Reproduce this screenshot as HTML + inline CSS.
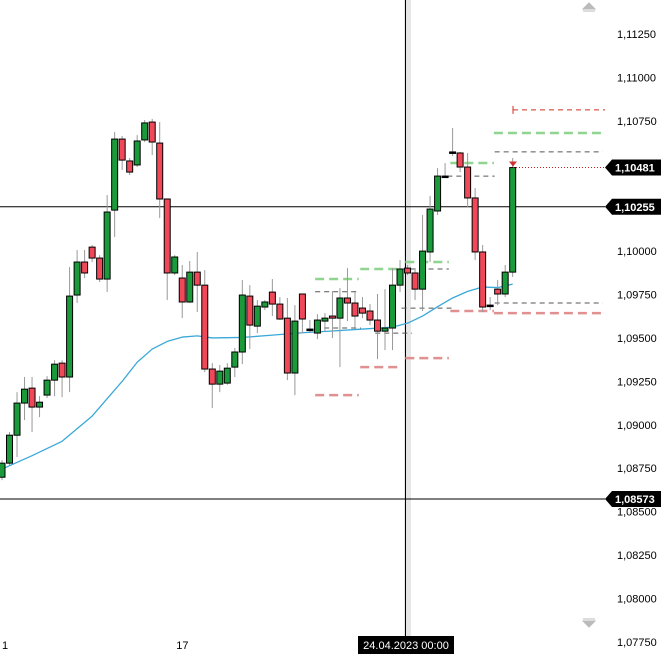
<!DOCTYPE html>
<html><head><meta charset="utf-8"><style>
html,body{margin:0;padding:0;background:#fff;}
#wrap{position:relative;width:661px;height:654px;overflow:hidden;font-family:"Liberation Sans",sans-serif;}
svg{position:absolute;left:0;top:0;}
</style></head><body>
<div id="wrap">
<svg id="chart" width="661" height="654"></svg>
</div>
<script>
const opens  = [1.08698,1.08779,1.08940,1.09125,1.09211,1.09102,1.09171,1.09257,1.09355,1.09275,1.09747,1.09937,1.10023,1.09960,1.09839,1.10236,1.10645,1.10519,1.10496,1.10640,1.10743,1.10622,1.10300,1.09874,1.09845,1.09707,1.09879,1.09804,1.09321,1.09234,1.09240,1.09332,1.09419,1.09741,1.09568,1.09678,1.09764,1.09695,1.09614,1.09298,1.09753,1.09551,1.09528,1.09597,1.09626,1.09614,1.09730,1.09701,1.09672,1.09655,1.09603,1.09539,1.09557,1.09804,1.09902,1.09874,1.09781,1.09995,1.10231,1.10432,1.10571,1.10565,1.10484,1.10306,1.09995,1.09689,1.09781,1.09753,1.09879];
const closes = [1.08779,1.08940,1.09125,1.09205,1.09102,1.09130,1.09257,1.09349,1.09275,1.09741,1.09937,1.09874,1.09960,1.09839,1.10225,1.10645,1.10524,1.10455,1.10634,1.10738,1.10628,1.10300,1.09874,1.09966,1.09707,1.09879,1.09804,1.09321,1.09234,1.09309,1.09326,1.09419,1.09747,1.09574,1.09683,1.09707,1.09695,1.09609,1.09298,1.09597,1.09609,1.09551,1.09603,1.09614,1.09614,1.09730,1.09701,1.09626,1.09643,1.09603,1.09539,1.09557,1.09804,1.09897,1.09874,1.09781,1.10000,1.10242,1.10432,1.10432,1.10571,1.10484,1.10306,1.09995,1.09678,1.09689,1.09753,1.09879,1.10481];
const highs  = [1.08796,1.08958,1.09188,1.09275,1.09275,1.09165,1.09280,1.09372,1.09372,1.09908,1.10006,1.10006,1.10035,1.09977,1.10323,1.10686,1.10663,1.10536,1.10668,1.10755,1.10761,1.10743,1.10300,1.09977,1.09920,1.09943,1.09995,1.09891,1.09355,1.09344,1.09355,1.09442,1.09833,1.09804,1.09718,1.09718,1.09839,1.09735,1.09730,1.09689,1.09753,1.09603,1.09637,1.09643,1.09770,1.09787,1.09902,1.09764,1.09735,1.09695,1.09753,1.09781,1.09902,1.09948,1.09920,1.09902,1.10208,1.10317,1.10478,1.10507,1.10709,1.10571,1.10565,1.10363,1.10035,1.09735,1.09833,1.09920,1.10536];
const lows   = [1.08681,1.08768,1.08814,1.09027,1.08958,1.09044,1.09154,1.09165,1.09159,1.09188,1.09701,1.09845,1.09937,1.09822,1.09764,1.10081,1.10467,1.10438,1.10484,1.10628,1.10553,1.10190,1.09718,1.09862,1.09614,1.09701,1.09649,1.09303,1.09096,1.09188,1.09230,1.09275,1.09349,1.09436,1.09528,1.09660,1.09626,1.09603,1.09257,1.09171,1.09528,1.09528,1.09493,1.09539,1.09499,1.09332,1.09597,1.09557,1.09614,1.09574,1.09378,1.09430,1.09430,1.09764,1.09862,1.09718,1.09655,1.09937,1.10208,1.10421,1.10547,1.10455,1.10254,1.09948,1.09649,1.09660,1.09689,1.09735,1.09851];
const maIndex = [0,4,8,12,14,16,18,20,22,24,26,28,32,36,40,44,48,52,54,56,58,60,62,64,66,68];
const maValues = [1.08745,1.08822,1.08905,1.09050,1.09150,1.09250,1.09360,1.09436,1.09480,1.09505,1.09512,1.09500,1.09503,1.09516,1.09530,1.09540,1.09551,1.09562,1.09585,1.09626,1.09680,1.09730,1.09768,1.09793,1.09790,1.09810];
const priceTicks = [1.1125,1.11,1.1075,1.105,1.1025,1.10,1.0975,1.095,1.0925,1.09,1.0875,1.085,1.0825,1.08,1.0775];
const tickLabels = ["1,11250","1,11000","1,10750","1,10500","1,10250","1,10000","1,09750","1,09500","1,09250","1,09000","1,08750","1,08500","1,08250","1,08000","1,07750"];
const hLines = [1.10255,1.08573];
const hLineLabels = ["1,10255","1,08573"];
const lastPrice = 1.10481;
const lastLabel = "1,10481";
const greenLevels = [[1.09839,41.7,47.5],[1.09897,47.7,53.3],[1.09937,53.7,59.5],[1.10507,59.7,65.5],[1.10680,65.5,80]];
const redLevels = [[1.09171,41.7,47.5],[1.09332,47.7,53.3],[1.09384,53.7,59.5],[1.09655,59.7,65.5],[1.09643,65.5,80]];
const blackLevels = [[1.09766,41.7,47.5],[1.09557,41.7,47.8],[1.09528,49.7,54.6],[1.09897,53.2,59.5],[1.09672,53.2,59.9],[1.10432,59.3,65.6],[1.10571,65.6,80],[1.09701,65.6,80]];
const redTarget = 1.10813;
const dateLabels = ["1","17"];
const dateIdx = [0,24];

const NS="http://www.w3.org/2000/svg";
const svg=document.getElementById('chart');
function y(p){return 34+(1.1125-p)/0.0025*43.42;}
function x(i){return 2+i*7.51;}
function el(t,a,parent){const e=document.createElementNS(NS,t);for(const k in a)e.setAttribute(k,a[k]);(parent||svg).appendChild(e);return e;}

let e;
e=el('rect',{x:404,y:0,width:7,height:654,fill:'#e6e6e6'});


hLines.forEach((p,k)=>{
  e=el('line',{x1:0,x2:605,y1:y(p),y2:y(p),stroke:'#000','stroke-width':1});
  
  
});
e=el('line',{x1:405.5,x2:405.5,y1:0,y2:654,stroke:'#000','stroke-width':1});



function lvl(arr,color,dash,w,name){arr.forEach((l,k)=>{
  e=el('line',{x1:x(l[1]),x2:Math.min(x(l[2]),605),y1:y(l[0]),y2:y(l[0]),stroke:color,'stroke-width':w,'stroke-dasharray':dash});
  
  
});}
lvl(greenLevels,'#8fd48f','9,5',2.5,'green-level');
lvl(redLevels,'#e09090','9,5',2.5,'red-level');
lvl(blackLevels,'#555','5,4',1,'black-level');
e=el('line',{x1:513,x2:605,y1:y(redTarget),y2:y(redTarget),stroke:'#d03020','stroke-width':1,'stroke-dasharray':'5,4'});


e=el('line',{x1:513,x2:513,y1:y(redTarget)-4,y2:y(redTarget)+4,stroke:'#d03020'});



let d='M0,'+(y(maValues[0])+2);
maValues.forEach((v,k)=>{d+='L'+x(maIndex[k])+','+y(v);});
e=el('path',{d:d,fill:'none',stroke:'#3aa8d8','stroke-width':1.3,'stroke-linejoin':'round'});



opens.forEach((o,i)=>{
  const c=closes[i],cx=x(i);
  const g=el('g',{});
  
  
  el('line',{x1:cx,x2:cx,y1:y(highs[i]),y2:y(lows[i]),stroke:'#999','stroke-width':1},g);
  const top=y(Math.max(o,c)),bot=y(Math.min(o,c));
  const col=c>o?'#1a9a3a':(c<o?'#f04858':'#000');
  el('rect',{x:cx-3,y:top,width:6,height:Math.max(bot-top,1.5),fill:col,stroke:'#000','stroke-width':1},g);
});

const ly=y(lastPrice);
e=el('line',{x1:513,x2:605,y1:ly,y2:ly,stroke:'#c02020','stroke-width':1,'stroke-dasharray':'1,2'});


e=el('path',{d:`M509,${ly-6}L517,${ly-6}L513,${ly-1}Z`,fill:'#d03030'});



priceTicks.forEach((p,k)=>{
  e=el('text',{x:617,y:y(p)+4,'font-size':11,fill:'#000'});
  e.textContent=tickLabels[k];
  
  
});
function tag(p,label,name){
  const ty=y(p);
  const g=el('g',{});
  
  
  el('path',{d:`M605,${ty}L612,${ty-8}L661,${ty-8}L661,${ty+8}L612,${ty+8}Z`,fill:'#000'},g);
  const t=el('text',{x:615,y:ty+4,'font-size':11,'font-weight':'bold',fill:'#fff'},g);t.textContent=label;
}
tag(lastPrice,lastLabel,'last-price-tag');
hLines.forEach((p,k)=>tag(p,hLineLabels[k],'hline-tag-'+k));

e=el('path',{d:'M583,9L589,3L595,9Z M583,11L595,11',fill:'#bbb',stroke:'#bbb'});


e=el('path',{d:'M583,621L589,627L595,621Z M583,619L595,619',fill:'#bbb',stroke:'#bbb'});



dateLabels.forEach((l,k)=>{
  e=el('text',{x:x(dateIdx[k])+(k?-6:0),y:649,'font-size':11,fill:'#000'});
  e.textContent=l;
  
  
});
const g2=el('g',{});


el('rect',{x:358,y:636,width:96,height:18,fill:'#000'},g2);
const dt=el('text',{x:406,y:649,'font-size':11,fill:'#fff','text-anchor':'middle'},g2);dt.textContent='24.04.2023 00:00';
</script>
</body></html>
